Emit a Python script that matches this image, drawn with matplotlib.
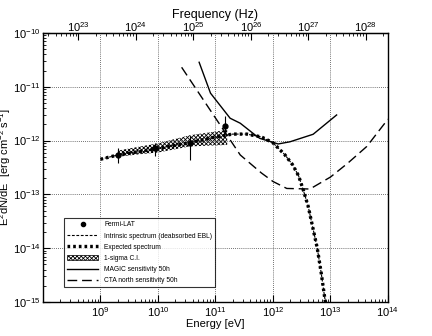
import numpy as np
import matplotlib
matplotlib.use('Agg')
import matplotlib.pyplot as plt
from matplotlib.ticker import LogLocator, NullFormatter
from matplotlib.patches import Patch
from matplotlib.lines import Line2D

plt.rcParams['font.family'] = 'Liberation Sans'
plt.rcParams['mathtext.fontset'] = 'custom'
plt.rcParams['mathtext.rm'] = 'Liberation Sans'
plt.rcParams['mathtext.it'] = 'Liberation Sans:italic'
plt.rcParams['mathtext.bf'] = 'Liberation Sans:bold'
plt.rcParams['mathtext.default'] = 'regular'
plt.rcParams['hatch.linewidth'] = 0.6

# Fermi-LAT points (eV, erg cm-2 s-1)
fermi_e = [2.0e9, 8.9e9, 3.6e10, 1.46e11]
fermi_f = [5.4e-13, 7.2e-13, 8.9e-13, 1.9e-12]
fermi_lo = [3.8e-13, 5.25e-13, 4.4e-13, 1.35e-12]
fermi_hi = [7.2e-13, 8.9e-13, 1.22e-12, 2.9e-12]

# model spectra
model_e = [1e9, 2e9, 5e9, 1e10, 3.2e10, 1e11, 2e11, 3.5e11, 6.3e11, 1e12,
           1.6e12, 2.2e12, 2.8e12, 3.4e12, 4.1e12, 4.9e12, 5.9e12, 6.9e12, 7.9e12, 8.5e12]
expected_f = [4.5e-13, 5.4e-13, 6.3e-13, 7.2e-13, 8.9e-13, 1.17e-12, 1.32e-12, 1.32e-12, 1.17e-12, 9.1e-13,
              5.5e-13, 3.55e-13, 2.2e-13, 1.17e-13, 6.0e-14, 2.5e-14, 1.0e-14, 3.5e-15, 1.26e-15, 7.9e-16]
intrinsic_f = [4.5e-13, 5.4e-13, 6.3e-13, 7.2e-13, 8.9e-13, 1.17e-12, 1.32e-12, 1.32e-12, 1.17e-12, 9.1e-13,
               5.5e-13, 3.55e-13, 2.2e-13, 1.17e-13, 6.0e-14, 2.5e-14, 1.0e-14, 3.5e-15, 1.26e-15, 7.9e-16]

# 1-sigma butterfly
bfly_e = [2e9, 5e9, 1e10, 3.6e10, 1.6e11]
bfly_lo = [5.0e-13, 5.6e-13, 6.0e-13, 7.8e-13, 8.3e-13]
bfly_hi = [6.5e-13, 7.8e-13, 8.9e-13, 1.26e-12, 1.58e-12]

# sensitivities
magic_e = [5.2e10, 8.2e10, 1.8e11, 2.7e11, 4.9e11, 5.9e11, 1.23e12, 1.98e12, 5.0e12, 1.28e13]
magic_f = [2.85e-11, 7.6e-12, 2.6e-12, 2.1e-12, 1.27e-12, 1.1e-12, 8.65e-13, 9.5e-13, 1.31e-12, 2.99e-12]
cta_e = [2.58e10, 1e11, 2.7e11, 6.3e11, 1e12, 1.74e12, 4.4e12, 1e13, 2e13, 4.3e13, 1e14]
cta_f = [2.3e-11, 2.63e-12, 5.4e-13, 2.5e-13, 1.74e-13, 1.29e-13, 1.26e-13, 2.1e-13, 3.8e-13, 7.8e-13, 2.5e-12]

H_EV = 4.135667e-15  # eV s

fig = plt.figure(figsize=(4.32, 3.36), dpi=100)
ax = fig.add_axes([0.0995, 0.101, 0.7985, 0.801])

ax.fill_between(bfly_e, bfly_lo, bfly_hi, facecolor='none', edgecolor='black',
                hatch='xxxxxxxx', linewidth=0)
ax.plot(model_e, intrinsic_f, color='black', lw=0.8, linestyle=(0, (2.5, 1.5)))
ax.plot(model_e, expected_f, color='black', lw=2.4, linestyle=(0, (0.8, 0.9)))
ax.plot(magic_e, magic_f, color='black', lw=1.0)
ax.plot(cta_e, cta_f, color='black', lw=1.0, linestyle=(0, (7, 3.5)))

yerr = [np.array(fermi_f) - np.array(fermi_lo), np.array(fermi_hi) - np.array(fermi_f)]
ax.errorbar(fermi_e, fermi_f, yerr=yerr, fmt='o', color='black', ms=3.5,
            elinewidth=0.8, capsize=0)

ax.set_xscale('log')
ax.set_yscale('log')
ax.set_xlim(1e8, 1e14)
ax.set_ylim(1e-15, 1e-10)

ax.xaxis.set_major_locator(LogLocator(base=10, numticks=20))
ax.xaxis.set_minor_locator(LogLocator(base=10, subs=np.arange(2, 10), numticks=20))
ax.yaxis.set_major_locator(LogLocator(base=10, numticks=20))
ax.yaxis.set_minor_locator(LogLocator(base=10, subs=np.arange(2, 10), numticks=20))
ax.xaxis.set_minor_formatter(NullFormatter())
ax.yaxis.set_minor_formatter(NullFormatter())
ax.set_xticks([1e9, 1e10, 1e11, 1e12, 1e13, 1e14])

ax.tick_params(which='both', direction='in', top=False, right=False, labelsize=8)
ax.tick_params(which='major', length=5, width=0.8)
ax.tick_params(axis='x', which='major', pad=2)
ax.tick_params(axis='y', which='major', pad=2)
ax.tick_params(which='minor', length=2.5, width=0.6)
ax.grid(True, which='major', linestyle=(0, (1, 1.5)), color='#444444', lw=0.6)
for s in ax.spines.values():
    s.set_linewidth(1.0)

sec = ax.secondary_xaxis('top', functions=(lambda e: e / H_EV, lambda n: n * H_EV))
sec.set_xscale('log')
sec.xaxis.set_major_locator(LogLocator(base=10, numticks=20))
sec.xaxis.set_minor_locator(LogLocator(base=10, subs=np.arange(2, 10), numticks=20))
sec.xaxis.set_minor_formatter(NullFormatter())
sec.tick_params(which='both', direction='in', labelsize=8)
sec.tick_params(which='major', length=5, width=0.8, pad=-1)
sec.tick_params(which='minor', length=2.5, width=0.6)
sec.set_xlabel('Frequency (Hz)', fontsize=9, labelpad=2)

ax.set_xlabel('Energy [eV]', fontsize=8, labelpad=0)
ax.set_ylabel('E$^{2}$dN/dE  [erg cm$^{-2}$ s$^{-1}$]', fontsize=8)
ax.yaxis.set_label_coords(-0.088, 0.5)

handles = [
    Line2D([], [], marker='o', color='black', ms=3, linestyle='none'),
    Line2D([], [], color='black', lw=0.8, linestyle=(0, (2.5, 1.5))),
    Line2D([], [], color='black', lw=2.4, linestyle=(0, (0.8, 0.9))),
    Patch(facecolor='white', edgecolor='black', hatch='xxxxxxxx', lw=0.5),
    Line2D([], [], color='black', lw=1.0),
    Line2D([], [], color='black', lw=1.0, linestyle=(0, (7, 3.5))),
]
labels = ['Fermi-LAT', 'Intrinsic spectrum (deabsorbed EBL)', 'Expected spectrum',
          '1-sigma C.I.', 'MAGIC sensitivity 50h', 'CTA north sensitivity 50h']
leg = ax.legend(handles, labels, loc='upper left', bbox_to_anchor=(0.061, 0.312),
                fontsize=4.8, frameon=True, fancybox=False, borderaxespad=0,
                handlelength=4.6, handletextpad=0.9, labelspacing=0.62,
                borderpad=0.5)
leg.get_frame().set_edgecolor('black')
leg.get_frame().set_linewidth(0.8)

fig.savefig('out.png', dpi=100)
